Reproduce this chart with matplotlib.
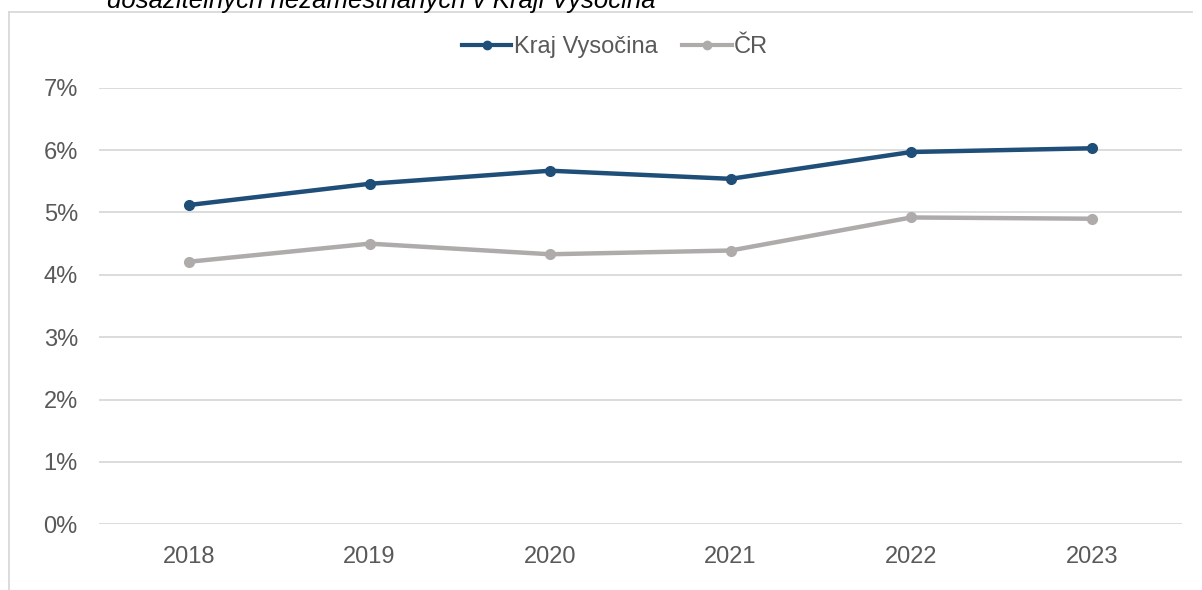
import matplotlib
matplotlib.use("Agg")
import matplotlib.pyplot as plt
from matplotlib.lines import Line2D
from matplotlib.ticker import FuncFormatter

plt.rcParams['font.family'] = ['Liberation Sans', 'DejaVu Sans']

years = ["2018", "2019", "2020", "2021", "2022", "2023"]
kraj_vysocina = [5.12, 5.46, 5.67, 5.54, 5.97, 6.03]
cr = [4.21, 4.50, 4.33, 4.39, 4.92, 4.90]
series_names = ["Kraj Vysočina", "ČR"]
title_text = "dosažitelných nezaměstnaných v Kraji Vysočina"

W, H = 1202, 590
fig = plt.figure(figsize=(W / 100, H / 100), dpi=100)

def px(x0, y0, x1, y1):
    return [x0 / W, 1 - y1 / H, (x1 - x0) / W, (y1 - y0) / H]

ax = fig.add_axes(px(98.7, 87.8, 1182, 524.2))

blue = "#1F4E79"
gray = "#AFABAB"
text_col = "#595959"
grid_col = "#D9D9D9"
fs = 17

x = list(range(len(years)))
ax.plot(x, kraj_vysocina, color=blue, lw=3.2, marker="o", ms=7, solid_capstyle="round", zorder=3)
ax.plot(x, cr, color=gray, lw=3.2, marker="o", ms=7, solid_capstyle="round", zorder=3)

ax.set_xlim(-0.5, len(years) - 0.5)
ax.set_ylim(0, 7)
ax.set_yticks(range(0, 8))
ax.yaxis.set_major_formatter(FuncFormatter(lambda v, p: f"{int(v)}%"))
ax.set_xticks(x)
ax.set_xticklabels(years)
ax.grid(axis="y", color=grid_col, lw=1.3)
ax.set_axisbelow(True)
for s in ax.spines.values():
    s.set_visible(False)
ax.tick_params(axis="both", length=0, labelsize=fs, colors=text_col)
ax.tick_params(axis="y", pad=15)
ax.tick_params(axis="x", pad=15.5)

handles = [Line2D([0], [0], color=blue, lw=3.0, marker="o", ms=6),
           Line2D([0], [0], color=gray, lw=3.0, marker="o", ms=6)]
leg = fig.legend(handles, series_names, loc="center", bbox_to_anchor=(615 / W, 1 - 47 / H),
                 ncol=2, frameon=False, fontsize=fs, handlelength=2.1, handletextpad=0.1,
                 columnspacing=1.05, labelcolor=text_col)

# outer chart frame (top and left edges)
fig.add_artist(Line2D([8.5 / W, 1192 / W], [1 - 12 / H, 1 - 12 / H], color=grid_col, lw=1.3))
fig.add_artist(Line2D([8.5 / W, 8.5 / W], [1 - 12 / H, 0], color=grid_col, lw=1.3))

# cropped title at very top
fig.text(107 / W, 1 - 8 / H, title_text, fontsize=18.5, style="italic", color="black",
         ha="left", va="baseline")

fig.savefig("out.png", dpi=100, facecolor="white")
